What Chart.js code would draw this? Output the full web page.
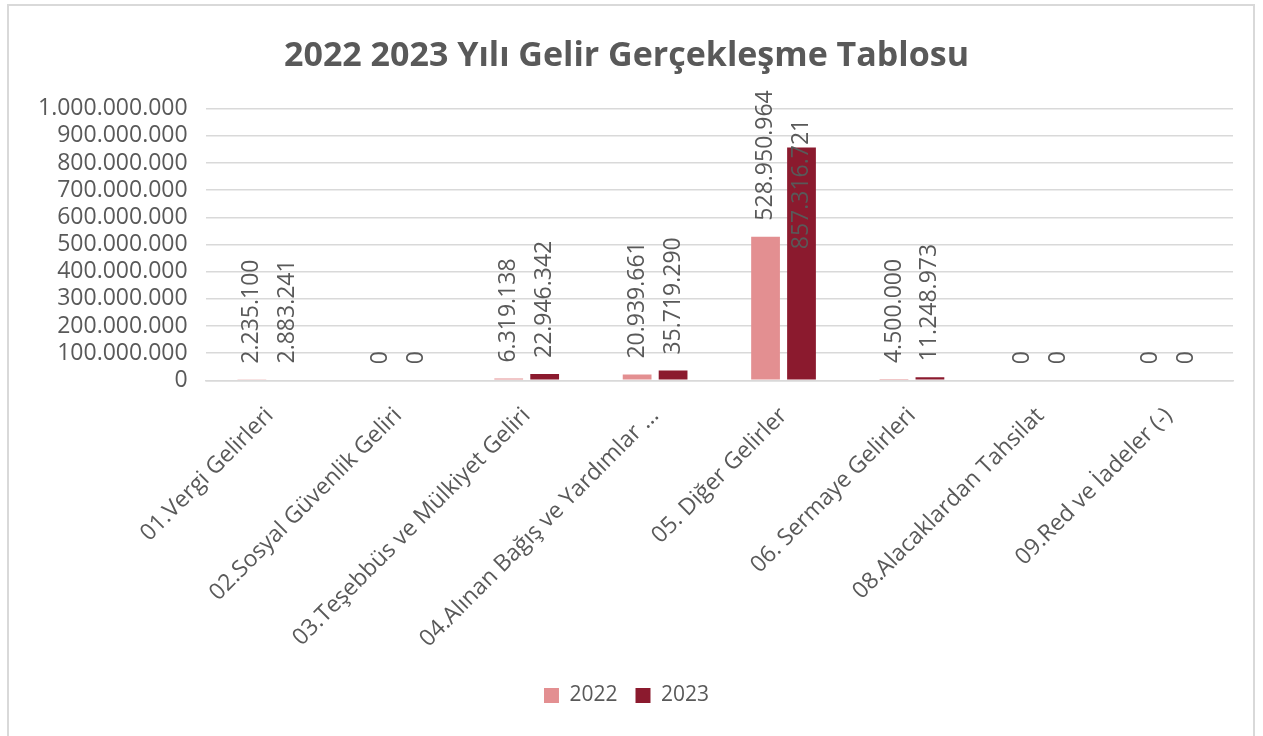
<!DOCTYPE html>
<html lang="tr">
<head>
<meta charset="utf-8">
<title>2022 2023 Yılı Gelir Gerçekleşme Tablosu</title>
<script src="https://cdn.jsdelivr.net/npm/chart.js@4"></script>
<style>
  html, body { margin: 0; padding: 0; background: #fff; }
  #frame {
    position: absolute; left: 7px; top: 4px; width: 1248px; height: 740px;
    border: 2px solid #d9d9d9; box-sizing: border-box;
  }
  #wrap { position: absolute; left: 0; top: 0; width: 1263px; height: 736px; }
</style>
</head>
<body>
<div id="frame"></div>
<div id="wrap"><canvas id="chart" width="1263" height="736"></canvas></div>
<script>
// --- data
const categories = [
  "01.Vergi Gelirleri",
  "02.Sosyal Güvenlik Geliri",
  "03.Teşebbüs ve Mülkiyet Geliri",
  "04.Alınan Bağış ve Yardımlar ...",
  "05. Diğer Gelirler",
  "06. Sermaye Gelirleri",
  "08.Alacaklardan Tahsilat",
  "09.Red ve İadeler (-)"
];
const values2022 = [2235100, 0, 6319138, 20939661, 528950964, 4500000, 0, 0];
const values2023 = [2883241, 0, 22946342, 35719290, 857316721, 11248973, 0, 0];
const yMax = 1000000000;
const yStep = 100000000;

const GREY = "#595959";
const FONT = "'Open Sans', 'Noto Sans', sans-serif";

function fmtTR(n) {
  return String(Math.round(n)).replace(/\B(?=(\d{3})+(?!\d))/g, ".");
}

// value labels, rotated like the Excel original
const valueLabels = {
  id: "valueLabels",
  afterDatasetsDraw(chart) {
    const { ctx, chartArea } = chart;
    ctx.save();
    ctx.font = "23px " + FONT;
    ctx.fillStyle = GREY;
    ctx.textBaseline = "middle";
    ctx.textAlign = "left";
    chart.data.datasets.forEach((ds, di) => {
      const meta = chart.getDatasetMeta(di);
      meta.data.forEach((bar, i) => {
        const txt = fmtTR(ds.data[i]);
        const w = ctx.measureText(txt).width;
        let start = bar.y - 16;            // bottom end of the rotated text
        // too tall to sit above the bar: pull it back inside, under the plot top
        if (start - w < chartArea.top - 30) start = chartArea.top + 10 + w;
        ctx.save();
        ctx.translate(bar.x, start);
        ctx.rotate(-Math.PI / 2);
        ctx.fillText(txt, 0, 0);
        ctx.restore();
      });
    });
    ctx.restore();
  }
};

new Chart(document.getElementById("chart"), {
  type: "bar",
  data: {
    labels: categories,
    datasets: [
      { label: "2022", data: values2022, backgroundColor: "#e38f91" },
      { label: "2023", data: values2023, backgroundColor: "#8b1a2e" }
    ]
  },
  options: {
    responsive: false,
    animation: false,
    categoryPercentage: 0.56,
    barPercentage: 0.8,
    layout: { padding: { left: 20, right: 30, top: 18, bottom: 20 } },
    plugins: {
      title: {
        display: true,
        text: "2022 2023 Yılı Gelir Gerçekleşme Tablosu",
        color: GREY,
        font: { family: FONT, size: 34, weight: "bold" },
        padding: { top: 18, bottom: 32 }
      },
      legend: {
        position: "bottom",
        labels: {
          color: GREY,
          font: { family: FONT, size: 21 },
          boxWidth: 15, boxHeight: 15, padding: 18
        }
      },
      tooltip: { enabled: false }
    },
    scales: {
      y: {
        min: 0, max: yMax,
        ticks: {
          stepSize: yStep,
          autoSkip: false,
          color: GREY,
          font: { family: FONT, size: 23, lineHeight: 1 },
          padding: 18,
          callback: v => fmtTR(v)
        },
        grid: { color: "#d9d9d9", lineWidth: 1.5, drawTicks: false },
        border: { display: false }
      },
      x: {
        ticks: {
          color: GREY,
          font: { family: FONT, size: 23 },
          minRotation: 45, maxRotation: 45,
          padding: 14
        },
        grid: { display: false },
        border: { color: "#d9d9d9", width: 1.5 }
      }
    }
  },
  plugins: [valueLabels]
});
</script>
</body>
</html>
